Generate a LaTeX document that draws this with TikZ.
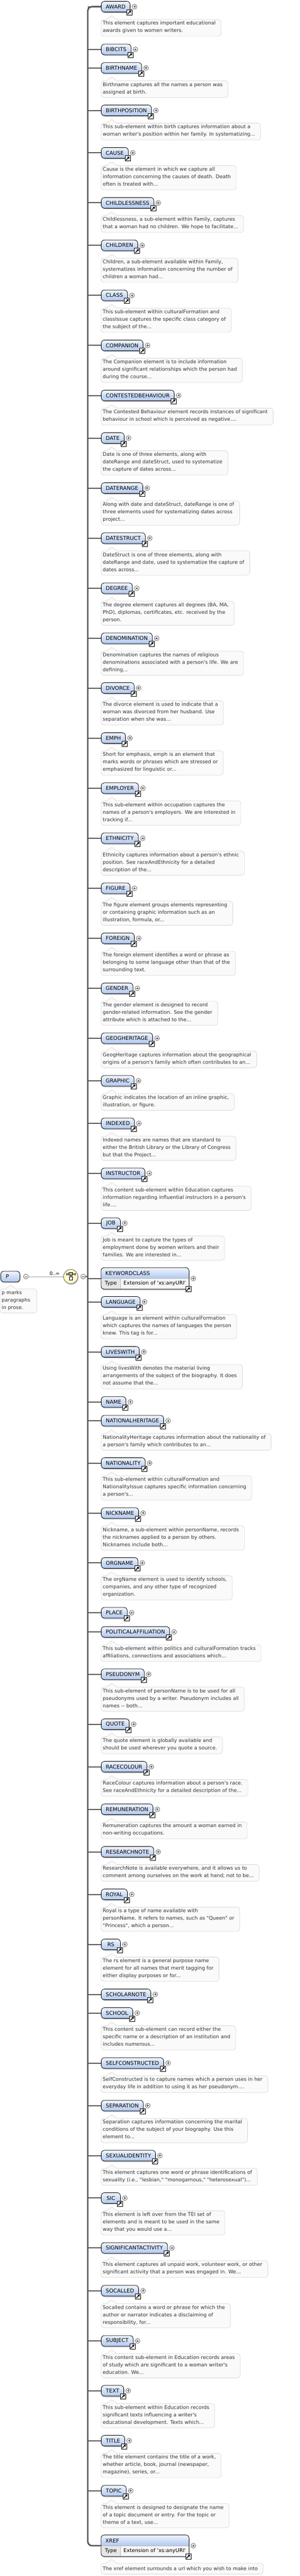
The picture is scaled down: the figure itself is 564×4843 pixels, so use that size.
\documentclass[tikz,border=0pt]{standalone}
\usepackage{fontspec}
\newfontfamily\xsdfont{DejaVu Sans}
\usetikzlibrary{calc,shadows,backgrounds,arrows.meta}
\definecolor{elemtop}{RGB}{240,245,253}
\definecolor{elembot}{RGB}{176,200,240}
\definecolor{notefill}{RGB}{250,250,250}
\definecolor{noteline}{RGB}{214,214,214}
\definecolor{wire}{RGB}{88,88,88}
\definecolor{choicefill}{RGB}{255,250,200}
\definecolor{typecell}{RGB}{230,230,230}
\definecolor{typerow}{RGB}{246,246,246}

\begin{document}
\begin{tikzpicture}[x=1pt,y=-1pt,
        elem/.style={draw=black, line width=0.8pt, rounded corners=6pt,
              top color=elemtop, bottom color=elembot,
              font=\xsdfont\fontsize{10}{12}\selectfont,
              minimum height=20pt, minimum width=36pt, inner xsep=8.5pt, inner ysep=0pt,
              anchor=west, drop shadow={shadow xshift=1pt, shadow yshift=-2pt, fill=black, opacity=0.25}},
        typebox/.style={fill=typerow, rounded corners=6pt, minimum width=165pt, minimum height=40pt,
              inner sep=0pt, anchor=west, drop shadow={shadow xshift=1pt, shadow yshift=-2pt, fill=black, opacity=0.25}},
        typetext/.style={anchor=west, inner sep=0pt, font=\xsdfont\fontsize{9.7}{12}\selectfont},
        rowline/.style={draw=gray!55, line width=0.6pt},
        boxline/.style={draw=black, line width=0.8pt, rounded corners=6pt},
        notetext/.style={anchor=north west, align=left, text=black!80,
              font=\xsdfont\fontsize{9.4}{14}\selectfont, inner xsep=0pt, inner ysep=3pt,
              execute at begin node=\rule{0pt}{10pt}, execute at end node=\rule[-4pt]{0pt}{4pt}},
        notebox/.style={draw=noteline, fill=notefill, line width=0.7pt, rounded corners=5pt},
        linkicon/.style={draw=black, fill=white, line width=0.7pt, minimum size=10pt, inner sep=0pt},
        linkarrow/.style={-{Triangle[length=4pt,width=4.5pt]}, line width=1.4pt},
        expand/.style={circle, draw=black!75, fill=white, minimum size=9pt, inner sep=0pt, line width=0.6pt,
              path picture={\draw[line width=0.7pt]
                ([xshift=-2.3pt]path picture bounding box.center) -- ([xshift=2.3pt]path picture bounding box.center)
                ([yshift=-2.3pt]path picture bounding box.center) -- ([yshift=2.3pt]path picture bounding box.center);}},
        collapse/.style={circle, draw=black!75, fill=white, minimum size=9pt, inner sep=0pt, line width=0.6pt,
              path picture={\draw[line width=0.7pt]
                ([xshift=-2.3pt]path picture bounding box.center) -- ([xshift=2.3pt]path picture bounding box.center);}},
        choice/.style={circle, draw=black!65, fill=choicefill, line width=0.8pt, minimum size=27pt, inner sep=0pt,
              drop shadow={shadow xshift=1pt, shadow yshift=-1.5pt, fill=black, opacity=0.25}},
        branch/.style={draw=wire, line width=2pt},
        trunkline/.style={draw=wire, line width=2.8pt, rounded corners=8pt},
        thinwire/.style={draw=gray!75, line width=0.9pt},
    ]
    \useasboundingbox (0,0) rectangle (564,4843);
    \coordinate (trunk) at (165,0);

    % P and its choice
    \node[elem, text width=17pt, align=left] (P) at (1,2400) {P};
    \node[collapse] (P-minus) at ([xshift=11pt]P.east) {};
    \node[choice] (seq) at (133,2400) {};
    \draw[line width=0.8pt] ([shift={(-8pt,5pt)}]seq.center) -- ([shift={(8pt,5pt)}]seq.center);
    \draw[line width=0.8pt] ([shift={(-8pt,2.5pt)}]seq.center) -- ([shift={(-8pt,7.5pt)}]seq.center);
    \draw[line width=0.8pt] ([shift={(8pt,2.5pt)}]seq.center) -- ([shift={(8pt,7.5pt)}]seq.center);
    \draw[line width=0.8pt] ([yshift=5pt]seq.center) -- ([yshift=-1pt]seq.center);
    \node[draw=black, fill=gray!55, line width=0.6pt, minimum width=6.5pt, minimum height=5.5pt, inner sep=0pt] (seq-box) at ([yshift=5pt]seq.center) {};
    \node[draw=black, fill=white, line width=0.6pt, minimum size=6pt, inner sep=0pt] (seq-sub) at ([yshift=-3.5pt]seq.center) {};
    \node[collapse] (seq-minus) at ([xshift=9.5pt]seq.east) {};
    \draw[thinwire] (P-minus) -- (seq) node[pos=0.75, above=2pt, inner sep=0pt, font=\xsdfont\fontsize{9}{11}\selectfont] (seq-count) {0..∞};
    \draw[branch] (seq-minus) -- (trunk |- seq-minus);
    \node[notetext] (P-note) at (3,2423) {p marks\\paragraphs\\in prose.};
    \begin{scope}[on background layer]
      \draw[notebox] ([xshift=27pt]P-note.north west) -- ([xshift=12pt]P-note.north east) -- ([xshift=12pt]P-note.south east)
        -- ([xshift=-3pt]P-note.south west) -- ([xshift=-3pt]P-note.north west) [sharp corners] -- ([xshift=7pt]P-note.north west)
        -- ([xshift=17pt,yshift=7pt]P-note.north west) -- cycle;
    \end{scope}

    % elements of the choice
    \foreach \y/\nm/\nl/\txt in {
        12.6/AWARD/2/{This element captures important educational\\awards given to women writers.},
        92.9/BIBCITS/0/{},
        127.7/BIRTHNAME/2/{Birthname captures all the names a person was\\assigned at birth.},
        207.5/BIRTHPOSITION/2/{This sub-element within birth captures information about a\\woman writer's position within her family. In systematizing...},
        287.4/CAUSE/3/{Cause is the element in which we capture all\\information concerning the causes of death. Death\\often is treated with...},
        381.4/CHILDLESSNESS/2/{Childlessness, a sub-element within Family, captures\\that a woman had no children. We hope to facilitate...},
        461.3/CHILDREN/3/{Children, a sub-element available within Family,\\systematizes information concerning the number of\\children a woman had...},
        555.3/CLASS/3/{This sub-element within culturalFormation and\\classIssue captures the specific class category of\\the subject of the...},
        649.4/COMPANION/3/{The Companion element is to include information\\around significant relationships which the person had\\during the course...},
        743.5/CONTESTEDBEHAVIOUR/2/{The Contested Behaviour element records instances of significant\\behaviour in school which is perceived as negative....},
        823.5/DATE/3/{Date is one of three elements, along with\\dateRange and dateStruct, used to systematize\\the capture of dates across...},
        917.6/DATERANGE/3/{Along with date and dateStruct, dateRange is one of\\three elements used for systematizing dates across\\project...},
        1011.8/DATESTRUCT/3/{DateStruct is one of three elements, along with\\dateRange and date, used to systematize the capture of\\dates across...},
        1105.9/DEGREE/3/{The degree element captures all degrees (BA, MA,\\PhD), diplomas, certificates, etc. received by the\\person.},
        1200/DENOMINATION/3/{Denomination captures the names of religious\\denominations associated with a person's life. We are\\defining...},
        1293.5/DIVORCE/3/{The divorce element is used to indicate that a\\woman was divorced from her husband. Use\\separation when she was...},
        1387.6/EMPH/3/{Short for emphasis, emph is an element that\\marks words or phrases which are stressed or\\emphasized for linguistic or...},
        1481.8/EMPLOYER/3/{This sub-element within occupation captures the\\names of a person's employers. We are interested in\\tracking if...},
        1575.9/ETHNICITY/3/{Ethnicity captures information about a person's ethnic\\position. See raceAndEthnicity for a detailed\\description of the...},
        1670/FIGURE/3/{The figure element groups elements representing\\or containing graphic information such as an\\illustration, formula, or...},
        1764.1/FOREIGN/3/{The foreign element identifies a word or phrase as\\belonging to some language other than that of the\\surrounding text.},
        1858.1/GENDER/3/{The gender element is designed to record\\gender-related information. See the gender\\attribute which is attached to the...},
        1951.9/GEOGHERITAGE/2/{GeogHeritage captures information about the geographical\\origins of a person's family which often contributes to an...},
        2031.9/GRAPHIC/2/{Graphic indicates the location of an inline graphic,\\illustration, or figure.},
        2111.9/INDEXED/3/{Indexed names are names that are standard to\\either the British Library or the Library of Congress\\but that the Project...},
        2206/INSTRUCTOR/3/{This content sub-element within Education captures\\information regarding influential instructors in a person's\\life....},
        2299.7/JOB/3/{Job is meant to capture the types of\\employment done by women writers and their\\families. We are interested in...},
        2447.5/LANGUAGE/3/{Language is an element within culturalFormation\\which captures the names of languages the person\\knew. This tag is for...},
        2541.6/LIVESWITH/3/{Using livesWith denotes the material living\\arrangements of the subject of the biography. It does\\not assume that the...},
        2635.7/NAME/0/{},
        2671/NATIONALHERITAGE/2/{NationalityHeritage captures information about the nationality of\\a person's family which contributes to an...},
        2750.6/NATIONALITY/3/{This sub-element within culturalFormation and\\NationalityIssue captures specific information concerning\\a person's...},
        2844.7/NICKNAME/3/{Nickname, a sub-element within personName, records\\the nicknames applied to a person by others.\\Nicknames include both...},
        2938.4/ORGNAME/3/{The orgName element is used to identify schools,\\companies, and any other type of recognized\\organization.},
        3032/PLACE/0/{},
        3068.1/POLITICALAFFILIATION/2/{This sub-element within politics and culturalFormation tracks\\affiliations, connections and associations which...},
        3147.7/PSEUDONYM/3/{This sub-element of personName is to be used for all\\pseudonyms used by a writer. Pseudonym includes all\\names {-}{-} both...},
        3241.5/QUOTE/2/{The quote element is globally available and\\should be used wherever you quote a source.},
        3321.5/RACECOLOUR/2/{RaceColour captures information about a person's race.\\See raceAndEthnicity for a detailed description of the...},
        3401.5/REMUNERATION/2/{Remuneration captures the amount a woman earned in\\non-writing occupations.},
        3481.5/RESEARCHNOTE/2/{ResearchNote is available everywhere, and it allows us to\\comment among ourselves on the work at hand; not to be...},
        3561.5/ROYAL/3/{Royal is a type of name available with\\personName. It refers to names, such as "Queen" or\\"Princess", which a person...},
        3655.5/RS/3/{The rs element is a general purpose name\\element for all names that merit tagging for\\either display purposes or for...},
        3749.6/SCHOLARNOTE/0/{},
        3784.5/SCHOOL/3/{This content sub-element can record either the\\specific name or a description of an institution and\\includes numerous...},
        3878.6/SELFCONSTRUCTED/2/{SelfConstructed is to capture names which a person uses in her\\everyday life in addition to using it as her pseudonym....},
        3958.6/SEPARATION/3/{Separation captures information concerning the marital\\conditions of the subject of your biography. Use this\\element to...},
        4052.7/SEXUALIDENTITY/2/{This element captures one word or phrase identifications of\\sexuality (i.e., "lesbian," "monogamous," "heterosexual")...},
        4132.4/SIC/3/{This element is left over from the TEI set of\\elements and is meant to be used in the same\\way that you would use a...},
        4226.1/SIGNIFICANTACTIVITY/2/{This element captures all unpaid work, volunteer work, or other\\significant activity that a person was engaged in. We...},
        4306.7/SOCALLED/3/{Socalled contains a word or phrase for which the\\author or narrator indicates a disclaiming of\\responsibility, for...},
        4400.9/SUBJECT/3/{This content sub-element in Education records areas\\of study which are significant to a woman writer's\\education. We...},
        4494.7/TEXT/3/{This sub-element within Education records\\significant texts influencing a writer's\\educational development. Texts which...},
        4588.5/TITLE/3/{The title element contains the title of a work,\\whether article, book, journal (newspaper,\\magazine), series, or...},
        4682.7/TOPIC/3/{This element is designed to designate the name\\of a topic document or entry. For the topic or\\theme of a text, use...}}{
      \draw[branch] (trunk |- 190,\y) -- (190,\y);
      \node[elem] (\nm) at (190,\y) {\nm};
      \node[linkicon] (\nm-link) at ([xshift=-1.5pt]\nm.south east) {};
      \draw[linkarrow] ([shift={(2pt,2pt)}]\nm-link.south west) -- ([shift={(-1.8pt,-1.8pt)}]\nm-link.north east);
      \node[expand] (\nm-plus) at ([xshift=8pt]\nm.east) {};
      \ifnum\nl>0
        \node[notetext] (\nm-note) at (193,\y+24) {\txt};
        \begin{scope}[on background layer]
          \draw[notebox] ([xshift=27pt]\nm-note.north west) -- ([xshift=10pt]\nm-note.north east) -- ([xshift=10pt]\nm-note.south east)
            -- ([xshift=-3pt]\nm-note.south west) -- ([xshift=-3pt]\nm-note.north west) [sharp corners] -- ([xshift=7pt]\nm-note.north west)
            -- ([xshift=17pt,yshift=7pt]\nm-note.north west) -- cycle;
        \end{scope}
      \fi
    }

    % KEYWORDCLASS
    \draw[branch] (trunk |- 190,2403.5) -- (190,2403.5);
    \node[typebox] (KEYWORDCLASS) at (190,2403.5) {};
    \begin{scope}
      \clip[rounded corners=6pt] (KEYWORDCLASS.south west) rectangle (KEYWORDCLASS.north east);
      \shade[top color=elemtop, bottom color=elembot] (KEYWORDCLASS.north west) rectangle (KEYWORDCLASS.east);
      \fill[typecell] (KEYWORDCLASS.west) rectangle ([xshift=36pt]KEYWORDCLASS.south west);
    \end{scope}
    \draw[rowline] (KEYWORDCLASS.west) -- (KEYWORDCLASS.east);
    \draw[rowline] ([xshift=36pt]KEYWORDCLASS.west) -- ([xshift=36pt]KEYWORDCLASS.south west);
    \draw[boxline] (KEYWORDCLASS.south west) rectangle (KEYWORDCLASS.north east);
    \node[typetext, font=\xsdfont\fontsize{10}{12}\selectfont] (KEYWORDCLASS-name) at ([xshift=8pt,yshift=9.5pt]KEYWORDCLASS.west) {KEYWORDCLASS};
    \node[typetext] (KEYWORDCLASS-type) at ([xshift=7pt,yshift=-9.5pt]KEYWORDCLASS.west) {Type};
    \node[typetext] (KEYWORDCLASS-base) at ([xshift=42pt,yshift=-9.5pt]KEYWORDCLASS.west) {Extension of \textquotesingle xs:anyURI\textquotesingle};
    \node[linkicon] (KEYWORDCLASS-link) at ([xshift=-1.5pt]KEYWORDCLASS.south east) {};
    \draw[linkarrow] ([shift={(2pt,2pt)}]KEYWORDCLASS-link.south west) -- ([shift={(-1.8pt,-1.8pt)}]KEYWORDCLASS-link.north east);
    \node[expand] (KEYWORDCLASS-plus) at ([xshift=8pt]KEYWORDCLASS.east) {};

    % XREF
    \node[typebox] (XREF) at (190,4786) {};
    \begin{scope}
      \clip[rounded corners=6pt] (XREF.south west) rectangle (XREF.north east);
      \shade[top color=elemtop, bottom color=elembot] (XREF.north west) rectangle (XREF.east);
      \fill[typecell] (XREF.west) rectangle ([xshift=36pt]XREF.south west);
    \end{scope}
    \draw[rowline] (XREF.west) -- (XREF.east);
    \draw[rowline] ([xshift=36pt]XREF.west) -- ([xshift=36pt]XREF.south west);
    \draw[boxline] (XREF.south west) rectangle (XREF.north east);
    \node[typetext, font=\xsdfont\fontsize{10}{12}\selectfont] (XREF-name) at ([xshift=8pt,yshift=9.5pt]XREF.west) {XREF};
    \node[typetext] (XREF-type) at ([xshift=7pt,yshift=-9.5pt]XREF.west) {Type};
    \node[typetext] (XREF-base) at ([xshift=42pt,yshift=-9.5pt]XREF.west) {Extension of \textquotesingle xs:anyURI\textquotesingle};
    \node[linkicon] (XREF-link) at ([xshift=-1.5pt]XREF.south east) {};
    \draw[linkarrow] ([shift={(2pt,2pt)}]XREF-link.south west) -- ([shift={(-1.8pt,-1.8pt)}]XREF-link.north east);
    \node[expand] (XREF-plus) at ([xshift=8pt]XREF.east) {};
    \node[notetext] (XREF-note) at (193,4819) {The xref element surrounds a url which you wish to make into};
    \begin{scope}[on background layer]
      \draw[notebox] ([xshift=27pt]XREF-note.north west) -- ([xshift=10pt]XREF-note.north east) -- ([xshift=10pt]XREF-note.south east)
        -- ([xshift=-3pt]XREF-note.south west) -- ([xshift=-3pt]XREF-note.north west) [sharp corners] -- ([xshift=7pt]XREF-note.north west)
        -- ([xshift=17pt,yshift=7pt]XREF-note.north west) -- cycle;
    \end{scope}

    % trunk
    \draw[trunkline] (AWARD.west) -| (trunk |- XREF.west) -- (XREF.west);
\end{tikzpicture}
\end{document}
